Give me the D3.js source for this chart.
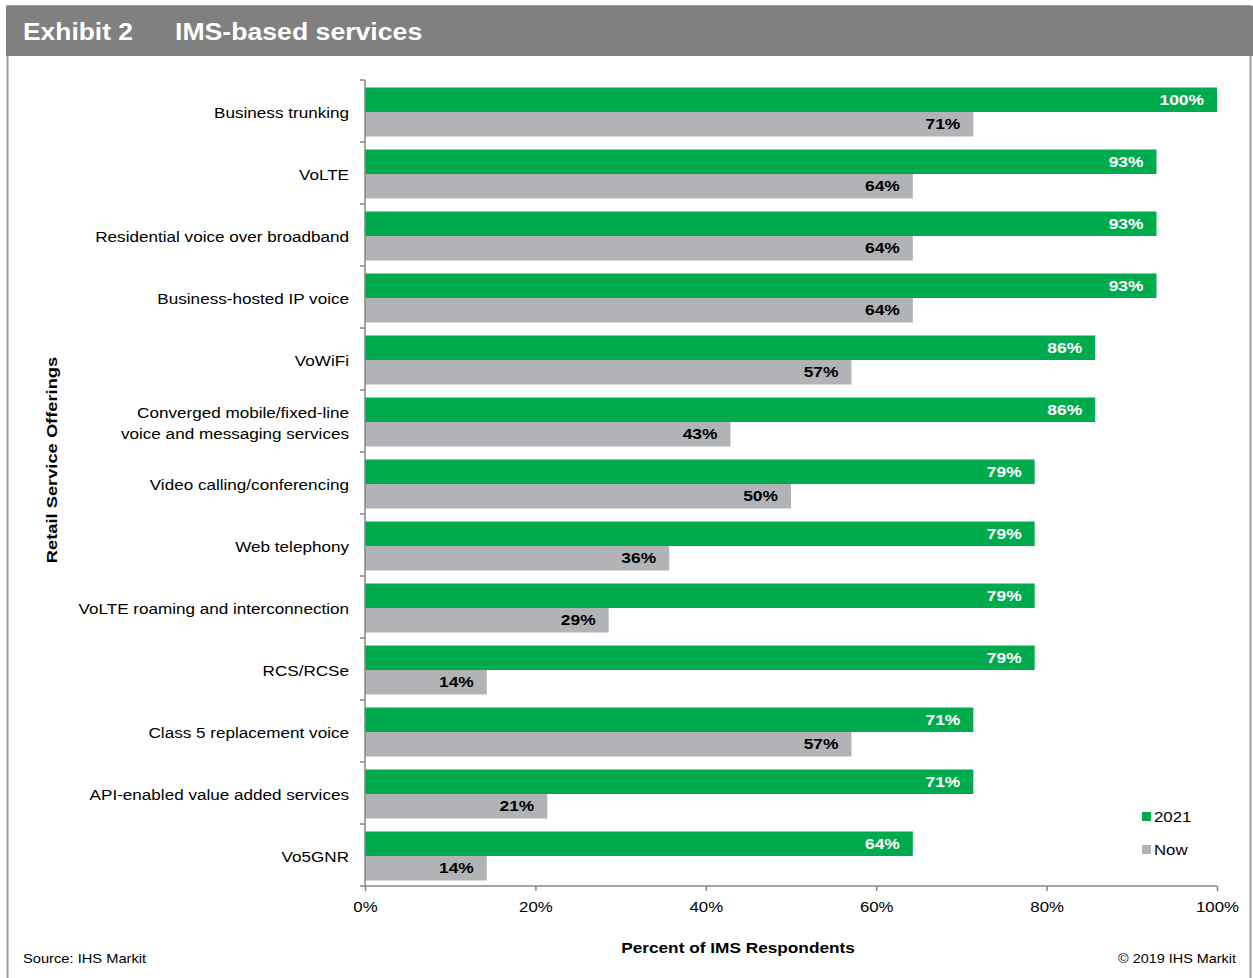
<!DOCTYPE html>
<meta charset="utf-8">
<script src="https://cdn.jsdelivr.net/npm/d3@7/dist/d3.min.js"></script>
<style>
body { margin: 0; background: #fff; }
text { font-family: "Liberation Sans", Arial, sans-serif; }
.tick text { font-size: 15px; fill: #000; }
</style>
<body>
<script>

// categories, top to bottom
var categories = [
  "Business trunking",
  "VoLTE",
  "Residential voice over broadband",
  "Business-hosted IP voice",
  "VoWiFi",
  "Converged mobile/fixed-line|voice and messaging services",
  "Video calling/conferencing",
  "Web telephony",
  "VoLTE roaming and interconnection",
  "RCS/RCSe",
  "Class 5 replacement voice",
  "API-enabled value added services",
  "Vo5GNR"
];
// percent of respondents
var future2021 = [100, 92.9, 92.9, 92.9, 85.7, 85.7, 78.6, 78.6, 78.6, 78.6, 71.4, 71.4, 64.3];
var now = [71.4, 64.3, 64.3, 64.3, 57.1, 42.9, 50, 35.7, 28.6, 14.3, 57.1, 21.4, 14.3];
var xTicks = [0, 20, 40, 60, 80, 100];
var seriesNames = ["2021", "Now"];
var seriesColors = ["#00ab4e", "#b1b3b6"];

var W = 1253, H = 978;
var svg = d3.select("body").append("svg")
    .attr("width", W)
    .attr("height", H);

// text placed with a horizontal stretch (the source font runs wider than Arial)
function label(parent, x, y, str, size, k, anchor, bold) {
  return parent.append("text")
      .attr("transform", "translate(" + x + "," + y + ") scale(" + k + ",1)")
      .attr("text-anchor", anchor || "start")
      .style("font-size", size + "px")
      .style("font-weight", bold ? "bold" : "normal")
      .text(str);
}

// frame + header
svg.append("rect")
    .attr("x", 7.5).attr("y", 6).attr("width", W - 10).attr("height", H + 10)
    .style("fill", "#fff").style("stroke", "#9aa0a8").style("stroke-width", 2);
svg.append("rect")
    .attr("x", 6).attr("y", 6).attr("width", W - 6).attr("height", 50)
    .style("fill", "#808080");
label(svg, 23, 40, "Exhibit 2", 24, 1.1, "start", true).style("fill", "#fff");
label(svg, 175, 40, "IMS-based services", 24, 1.11, "start", true).style("fill", "#fff");

var x = d3.scaleLinear().domain([0, 100]).range([365, 1217]);
var y = d3.scaleBand().domain(categories).range([80, 886]);

var data = categories.map(function(c, i) {
  return {name: c, vals: [future2021[i], now[i]]};
});

var g = svg.append("g");

var groups = g.selectAll(".cat")
    .data(data)
    .enter().append("g")
    .attr("transform", function(d) { return "translate(0," + y(d.name) + ")"; });

var barH = 24.5, off = 7.5;

groups.selectAll("rect")
    .data(function(d) { return d.vals; })
    .enter().append("rect")
    .attr("x", x(0))
    .attr("y", function(v, j) { return off + j * barH; })
    .attr("width", function(v) { return x(v) - x(0); })
    .attr("height", barH)
    .style("fill", function(v, j) { return seriesColors[j]; });

groups.each(function(d) {
  var grp = d3.select(this);
  d.vals.forEach(function(v, j) {
    label(grp, x(v) - 13, off + j * barH + barH / 2 + 5, Math.round(v) + "%", 15, 1.16, "end", true)
        .style("fill", j == 0 ? "#fff" : "#000");
  });
  // category label
  var lines = d.name.split("|");
  var start = y.bandwidth() / 2 + 7 - (lines.length - 1) * 10.5;
  lines.forEach(function(l, k) {
    label(grp, 349, start + k * 21, l, 15, 1.14, "end", false).style("fill", "#000");
  });
});

// left axis with category boundary ticks
var bounds = categories.map(function(c) { return y(c); }).concat([886]);
g.append("line").attr("x1", 365).attr("x2", 365).attr("y1", 80).attr("y2", 886)
    .style("stroke", "#868686").style("stroke-width", 1.5);
g.selectAll(".ytick").data(bounds).enter().append("line")
    .attr("x1", 360).attr("x2", 365)
    .attr("y1", function(d) { return d; }).attr("y2", function(d) { return d; })
    .style("stroke", "#868686").style("stroke-width", 1.5);

// bottom axis
var xAxis = svg.append("g")
    .attr("transform", "translate(0,886)")
    .call(d3.axisBottom(x).tickValues(xTicks).tickSize(5).tickPadding(10)
      .tickFormat(function(d) { return d + "%"; }));
xAxis.selectAll("path, line").style("stroke", "#868686").style("stroke-width", 1.5);
xAxis.select(".domain").attr("d", "M365,0H1217");
xAxis.selectAll(".tick text")
    .style("font-family", "Liberation Sans, Arial, sans-serif")
    .attr("transform", "scale(1.12,1)");

// axis titles
label(svg, 738, 953, "Percent of IMS Respondents", 15, 1.15, "middle", true);
svg.append("text")
    .attr("transform", "translate(57,460) rotate(-90) scale(1.22,1)")
    .attr("text-anchor", "middle")
    .style("font-size", "15px").style("font-weight", "bold")
    .text("Retail Service Offerings");

// legend
var legend = svg.selectAll(".legend").data(seriesNames).enter().append("g")
    .attr("transform", function(d, i) { return "translate(1142," + (812 + i * 33) + ")"; });
legend.append("rect").attr("width", 9).attr("height", 9)
    .style("fill", function(d, i) { return seriesColors[i]; });
legend.each(function(d) {
  label(d3.select(this), 12, 10, d, 15, 1.12, "start", false);
});

// footer
label(svg, 23, 963, "Source: IHS Markit", 13, 1.13, "start", false);
label(svg, 1236, 963, "\u00a9 2019 IHS Markit", 13, 1.11, "end", false);

</script>
</body>
